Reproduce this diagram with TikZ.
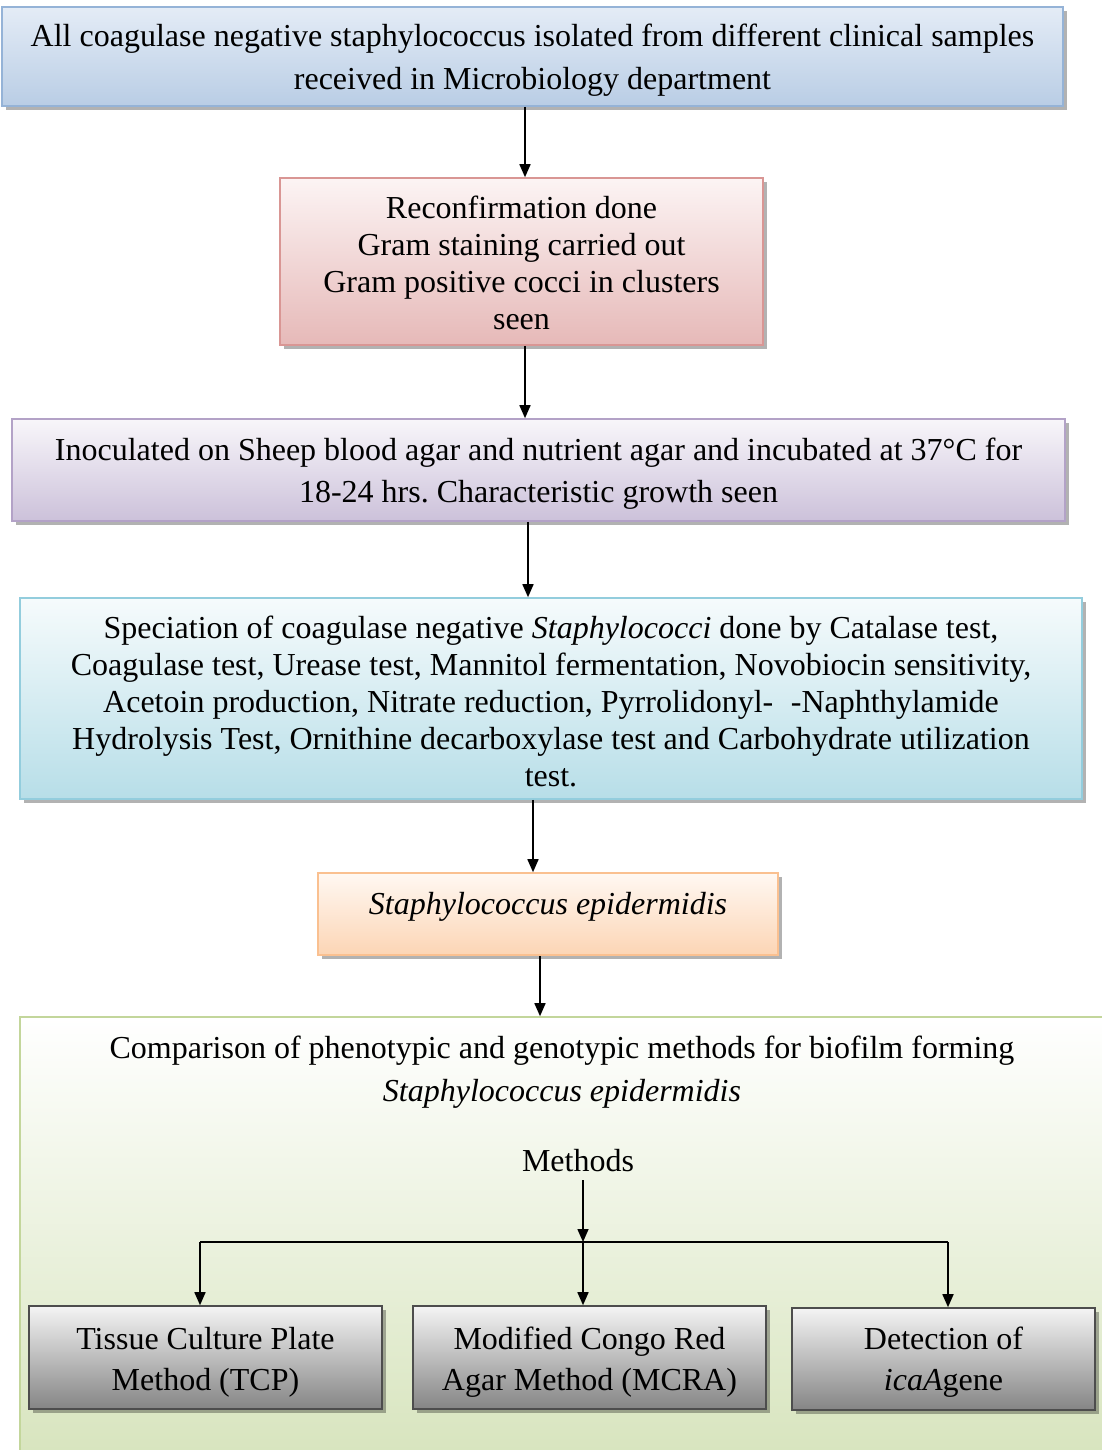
\documentclass[tikz,border=0pt]{standalone}
\usepackage{fontspec}
\setmainfont{Liberation Serif}
\usetikzlibrary{arrows.meta,shadows}
\frenchspacing
\definecolor{bluB}{HTML}{95B3D7}
\definecolor{bluT}{HTML}{E4ECF6}
\definecolor{bluF}{HTML}{B9CDE5}
\definecolor{redB}{HTML}{D99694}
\definecolor{redT}{HTML}{FCF4F4}
\definecolor{redF}{HTML}{E6B9B8}
\definecolor{purB}{HTML}{B3A2C7}
\definecolor{purT}{HTML}{F8F6FA}
\definecolor{purF}{HTML}{CCC1DA}
\definecolor{cyaB}{HTML}{93CDDD}
\definecolor{cyaT}{HTML}{F6FBFC}
\definecolor{cyaF}{HTML}{B7DEE8}
\definecolor{oraB}{HTML}{FAC090}
\definecolor{oraT}{HTML}{FFF8F2}
\definecolor{oraF}{HTML}{FCD5B5}
\definecolor{grnB}{HTML}{C3D69B}
\definecolor{grnF}{HTML}{D7E4BD}
\definecolor{gryB}{HTML}{4D4D4D}
\definecolor{gryT}{HTML}{F4F4F4}
\definecolor{gryF}{HTML}{858585}
\begin{document}
\frenchspacing
\begin{tikzpicture}[x=1pt,y=-1pt,
  box/.style={draw, line width=1.6pt, inner sep=0pt,
    drop shadow={shadow xshift=4pt,shadow yshift=-4pt,fill=black,opacity=0.3}},
  txt/.style={align=center, inner sep=0pt, font=\fontsize{32}{37}\selectfont},
  arr/.style={line width=1.6pt, -{Triangle[length=13pt,width=11pt]}},
  ln/.style={line width=1.6pt}
]
\useasboundingbox (0,0) rectangle (1101,1450);

% green background box
\node[draw=grnB, line width=1.6pt, top color=white, bottom color=grnF,
      minimum width=1095pt, minimum height=446pt, inner sep=0pt] (green) at (567.5,1240) {};

% boxes
\node[box, draw=bluB, top color=bluT, bottom color=bluF,
      minimum width=1061pt, minimum height=99pt] (top) at (532.5,56.5) {};
\node[box, draw=redB, top color=redT, bottom color=redF,
      minimum width=483pt, minimum height=167pt] (red) at (521.5,261.5) {};
\node[box, draw=purB, top color=purT, bottom color=purF,
      minimum width=1053pt, minimum height=102pt] (pur) at (538.5,470) {};
\node[box, draw=cyaB, top color=cyaT, bottom color=cyaF,
      minimum width=1062pt, minimum height=201pt] (cya) at (551,698.5) {};
\node[box, draw=oraB, top color=oraT, bottom color=oraF,
      minimum width=460pt, minimum height=82pt] (ora) at (548,914) {};
\node[box, draw=gryB, top color=gryT, bottom color=gryF,
      minimum width=353pt, minimum height=103pt] (tcp) at (205.5,1357.5) {};
\node[box, draw=gryB, top color=gryT, bottom color=gryF,
      minimum width=353pt, minimum height=103pt] (mcra) at (589.5,1357.5) {};
\node[box, draw=gryB, top color=gryT, bottom color=gryF,
      minimum width=303pt, minimum height=102pt] (ica) at (943.5,1359) {};

% texts
\node[txt, font=\fontsize{32}{43}\selectfont] (topT) at ([yshift=-4pt]top.center)
  {All coagulase negative staphylococcus isolated from different clinical samples\\received in Microbiology department};
\node[txt] (redT) at ([yshift=-1.5pt]red.center)
  {Reconfirmation done\\Gram staining carried out\\Gram positive cocci in clusters\\seen};
\node[txt, font=\fontsize{32}{42}\selectfont] (purT) at ([yshift=-4pt]pur.center)
  {Inoculated on Sheep blood agar and nutrient agar and incubated at 37°C for\\18-24 hrs. Characteristic growth seen};
\node[txt] (cyaT) at ([yshift=-3pt]cya.center)
  {Speciation of coagulase negative \textit{Staphylococci} done by Catalase test,\\
   Coagulase test, Urease test, Mannitol fermentation, Novobiocin sensitivity,\\
   Acetoin production, Nitrate reduction, Pyrrolidonyl-\hspace{0.55em}-Naphthylamide\\
   Hydrolysis Test, Ornithine decarboxylase test and Carbohydrate utilization\\
   test.};
\node[txt] (oraT) at (548,907) {\textit{Staphylococcus epidermidis}};
\node[txt, font=\fontsize{32}{43}\selectfont] (comp) at (562,1072.5)
  {Comparison of phenotypic and genotypic methods for biofilm forming\\\textit{Staphylococcus epidermidis}};
\node[txt] (meth) at (578,1161) {Methods};
\node[txt, font=\fontsize{32}{41}\selectfont] (tcpT) at ([yshift=-5pt]tcp.center)
  {Tissue Culture Plate\\Method (TCP)};
\node[txt, font=\fontsize{32}{41}\selectfont] (mcraT) at ([yshift=-5pt]mcra.center)
  {Modified Congo Red\\Agar Method (MCRA)};
\node[txt, font=\fontsize{32}{41}\selectfont] (icaT) at ([yshift=-3pt]ica.center)
  {Detection of\\\textit{icaA}gene};

% connectors
\draw[arr] ([xshift=-7.5pt]top.south) -- ([xshift=3.5pt]red.north);
\draw[arr] ([xshift=3.5pt]red.south) -- ([xshift=-13.5pt]pur.north);
\draw[arr] ([xshift=-10.5pt]pur.south) -- ([xshift=-23pt]cya.north);
\draw[arr] ([xshift=-18pt]cya.south) -- ([xshift=-15pt]ora.north);
\draw[arr] ([xshift=-8pt]ora.south) -- ([xshift=-27.5pt]green.north);

\coordinate (jn) at (583,1242);
\coordinate (jl) at (200,1242);
\coordinate (jr) at (948,1242);
\coordinate (ms) at (583,1180);
\draw[arr] (ms) -- (jn);
\draw[ln] (jl) -- (jr);
\draw[arr] (jl) -- (jl |- tcp.north);
\draw[arr] (jn) -- (jn |- mcra.north);
\draw[arr] (jr) -- (jr |- ica.north);
\end{tikzpicture}
\end{document}
